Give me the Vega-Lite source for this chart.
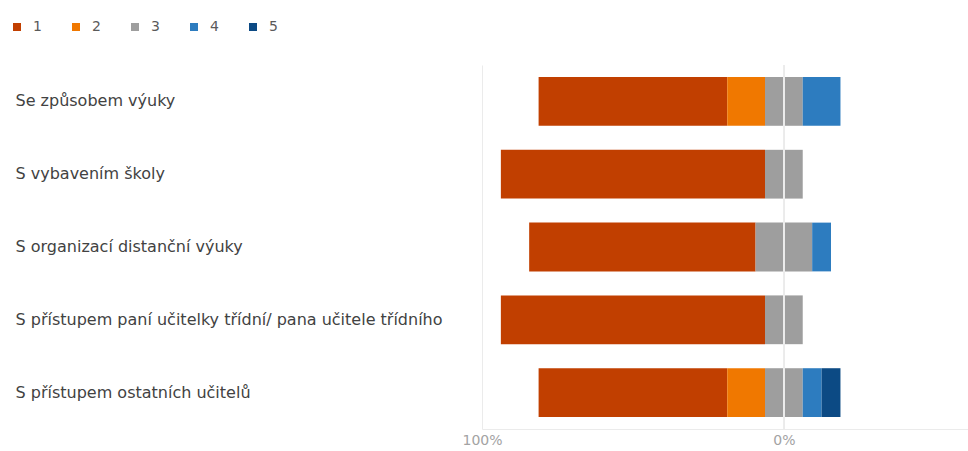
{
  "$schema": "https://vega.github.io/schema/vega-lite/v6.json",
  "autosize": {"type": "none"},
  "width": 486,
  "height": 364,
  "padding": {"left": 482, "top": 65, "right": 0, "bottom": 22},
  "background": "white",
  "config": {
    "view": {"stroke": null},
    "font": "DejaVu Sans",
    "axis": {"labelFont": "DejaVu Sans", "titleFont": "DejaVu Sans"},
    "legend": {"labelFont": "DejaVu Sans"}
  },
  "data": {
    "values": [
      {"question": "Se způsobem výuky", "answer": "1", "share": -0.625},
      {"question": "Se způsobem výuky", "answer": "2", "share": -0.125},
      {"question": "Se způsobem výuky", "answer": "3", "share": -0.0625},
      {"question": "Se způsobem výuky", "answer": "3", "share": 0.0625},
      {"question": "Se způsobem výuky", "answer": "4", "share": 0.125},
      {"question": "S vybavením školy", "answer": "1", "share": -0.875},
      {"question": "S vybavením školy", "answer": "3", "share": -0.0625},
      {"question": "S vybavením školy", "answer": "3", "share": 0.0625},
      {"question": "S organizací distanční výuky", "answer": "1", "share": -0.75},
      {"question": "S organizací distanční výuky", "answer": "3", "share": -0.09375},
      {"question": "S organizací distanční výuky", "answer": "3", "share": 0.09375},
      {"question": "S organizací distanční výuky", "answer": "4", "share": 0.0625},
      {"question": "S přístupem paní učitelky třídní/ pana učitele třídního", "answer": "1", "share": -0.875},
      {"question": "S přístupem paní učitelky třídní/ pana učitele třídního", "answer": "3", "share": -0.0625},
      {"question": "S přístupem paní učitelky třídní/ pana učitele třídního", "answer": "3", "share": 0.0625},
      {"question": "S přístupem ostatních učitelů", "answer": "1", "share": -0.625},
      {"question": "S přístupem ostatních učitelů", "answer": "2", "share": -0.125},
      {"question": "S přístupem ostatních učitelů", "answer": "3", "share": -0.0625},
      {"question": "S přístupem ostatních učitelů", "answer": "3", "share": 0.0625},
      {"question": "S přístupem ostatních učitelů", "answer": "4", "share": 0.0625},
      {"question": "S přístupem ostatních učitelů", "answer": "5", "share": 0.0625}
    ]
  },
  "transform": [
    {"calculate": "abs(toNumber(datum.answer) - 3)", "as": "ord"}
  ],
  "layer": [
    {
      "mark": {"type": "bar"},
      "encoding": {
        "y": {
          "field": "question",
          "type": "nominal",
          "sort": null,
          "scale": {"paddingInner": 0.33, "paddingOuter": 0.165},
          "axis": {
            "title": null,
            "domain": false,
            "ticks": false,
            "grid": false,
            "labelAlign": "left",
            "labelPadding": 467,
            "labelLimit": 600,
            "labelFontSize": 16,
            "labelColor": "#424242"
          }
        },
        "x": {
          "field": "share",
          "type": "quantitative",
          "stack": "zero",
          "scale": {"domain": [-1, 0.61], "nice": false, "zero": false},
          "axis": {
            "title": null,
            "values": [-1, 0],
            "labelExpr": "format(abs(datum.value) * 100, 'd') + '%'",
            "labelFlush": false,
            "grid": true,
            "gridColor": "#ebebeb",
            "domain": true,
            "domainColor": "#ebebeb",
            "ticks": false,
            "labelColor": "#a3a3a3",
            "labelFontSize": 14,
            "labelPadding": 4
          }
        },
        "order": {"field": "ord", "type": "quantitative", "sort": "ascending"},
        "color": {
          "field": "answer",
          "type": "nominal",
          "scale": {
            "domain": ["1", "2", "3", "4", "5"],
            "range": ["#C13F00", "#F07800", "#9E9E9E", "#2D7CBF", "#0C4A84"]
          },
          "legend": {
            "title": null,
            "orient": "none",
            "legendX": -472,
            "legendY": -45,
            "direction": "horizontal",
            "symbolType": "square",
            "symbolSize": 64,
            "symbolStrokeWidth": 0,
            "labelFontSize": 14,
            "labelColor": "#5a5a5a",
            "labelOffset": 9,
            "columnPadding": 27
          }
        }
      }
    },
    {
      "mark": {"type": "rule", "color": "#ececec", "strokeWidth": 1.5},
      "encoding": {"x": {"datum": 0}}
    }
  ]
}
